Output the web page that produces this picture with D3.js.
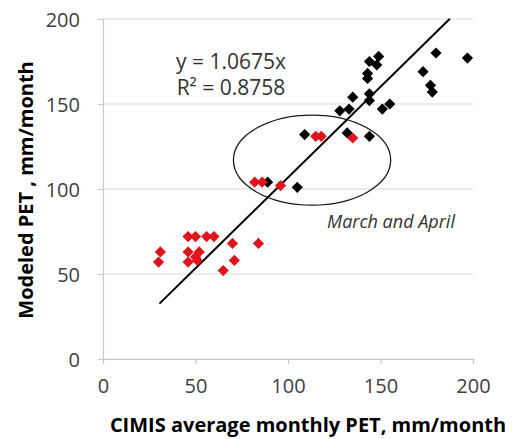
<!DOCTYPE html>
<html>
<head>
<meta charset="utf-8">
<script src="https://cdn.jsdelivr.net/npm/d3@7"></script>
<style>
  body { margin: 0; background: #fff; }
  svg { display: block; font-family: "Open Sans", Lato, sans-serif; }
</style>
</head>
<body>
<div id="chart"></div>
<script>
// -- data (mm/month)
const marchApril = [
  [30, 57], [31, 63],
  [46, 72], [50, 72], [56, 72], [60, 72],
  [46, 63], [52, 63], [46, 57], [51, 58], [50, 60],
  [70, 68], [71, 58], [65, 52], [84, 68],
  [82, 104], [86, 104], [96, 102],
  [115, 131], [118, 131], [135, 130]
];
const otherMonths = [
  [89, 104], [105, 101], [109, 132], [132, 133], [144, 131],
  [128, 146], [133, 147], [135, 154], [144, 152], [144, 156],
  [143, 165], [143, 168], [148, 173], [144, 175], [149, 178],
  [151, 147], [155, 150],
  [173, 169], [177, 161], [178, 157], [180, 180], [197, 177]
];
const xTicks = [0, 50, 100, 150, 200];
const yTicks = [0, 50, 100, 150, 200];
const slope = 1.0675;
const fitRange = [30.5, 187.5];
const eqLines = ['y = 1.0675x', 'R² = 0.8758'];
const ellipse = { cx: 113, cy: 117, rx: 42.5, ry: 26.5 };

const width = 514, height = 439;
const x = d3.scaleLinear().domain([0, 200]).range([103, 473]);
const y = d3.scaleLinear().domain([0, 200]).range([359, 19]);

const svg = d3.select('#chart').append('svg')
  .attr('width', width)
  .attr('height', height);

// -- gridlines
svg.append('g')
  .selectAll('line')
  .data(yTicks)
  .join('line')
  .attr('x1', x(0)).attr('x2', x(200))
  .attr('y1', d => y(d)).attr('y2', d => y(d))
  .attr('stroke', '#d9d9d9')
  .attr('stroke-width', 1.2);

// -- axes
const xAxis = svg.append('g')
  .attr('transform', `translate(0,${y(0)})`)
  .call(d3.axisBottom(x).tickValues(xTicks).tickSize(5).tickPadding(15));
const yAxis = svg.append('g')
  .attr('transform', `translate(${x(0)},0)`)
  .call(d3.axisLeft(y).tickValues(yTicks).tickSize(5).tickPadding(18));
[xAxis, yAxis].forEach(a => {
  a.select('.domain').attr('stroke', '#c8c8c8').attr('stroke-width', 1.2);
  a.selectAll('.tick line').attr('stroke', '#c8c8c8').attr('stroke-width', 1.2);
  a.selectAll('.tick text')
    .attr('fill', '#404040')
    .style('font-size', '20px')
    .style('font-family', '"Open Sans", Lato, sans-serif');
});
yAxis.selectAll('.tick text').attr('dy', '0.35em');

// -- ellipse around March/April points
svg.append('ellipse')
  .attr('cx', x(ellipse.cx))
  .attr('cy', y(ellipse.cy))
  .attr('rx', x(ellipse.cx + ellipse.rx) - x(ellipse.cx))
  .attr('ry', y(ellipse.cy - ellipse.ry) - y(ellipse.cy))
  .attr('fill', 'none')
  .attr('stroke', '#1a1a1a')
  .attr('stroke-width', 1.3);

// -- trend line
svg.append('line')
  .attr('x1', x(fitRange[0])).attr('y1', y(slope * fitRange[0]))
  .attr('x2', x(fitRange[1])).attr('y2', y(slope * fitRange[1]))
  .attr('stroke', '#000')
  .attr('stroke-width', 2);

// -- points
const diamond = d3.symbol().type(d3.symbolDiamond2).size(80);
svg.append('g')
  .selectAll('path')
  .data(otherMonths)
  .join('path')
  .attr('d', diamond)
  .attr('transform', d => `translate(${x(d[0])},${y(d[1])})`)
  .attr('fill', '#000');
svg.append('g')
  .selectAll('path')
  .data(marchApril)
  .join('path')
  .attr('d', diamond)
  .attr('transform', d => `translate(${x(d[0])},${y(d[1])})`)
  .attr('fill', '#e0141b');

// -- equation
svg.append('g')
  .selectAll('text')
  .data(eqLines)
  .join('text')
  .attr('x', 231)
  .attr('y', (d, i) => 69 + i * 26)
  .attr('text-anchor', 'middle')
  .attr('fill', '#333')
  .style('font-size', '21px')
  .text(d => d);

svg.append('text')
  .attr('x', 391)
  .attr('y', 228)
  .attr('text-anchor', 'middle')
  .attr('fill', '#333')
  .style('font-size', '18px')
  .style('font-style', 'italic')
  .text('March and April');

// -- axis titles
svg.append('text')
  .attr('x', 308)
  .attr('y', 432)
  .attr('text-anchor', 'middle')
  .attr('fill', '#000')
  .style('font-size', '20px')
  .style('font-weight', 'bold')
  .text('CIMIS average monthly PET, mm/month');
svg.append('text')
  .attr('transform', 'translate(33,190) rotate(-90)')
  .attr('text-anchor', 'middle')
  .attr('fill', '#000')
  .style('font-size', '20px')
  .style('font-weight', 'bold')
  .text('Modeled PET , mm/month');
</script>
</body>
</html>
